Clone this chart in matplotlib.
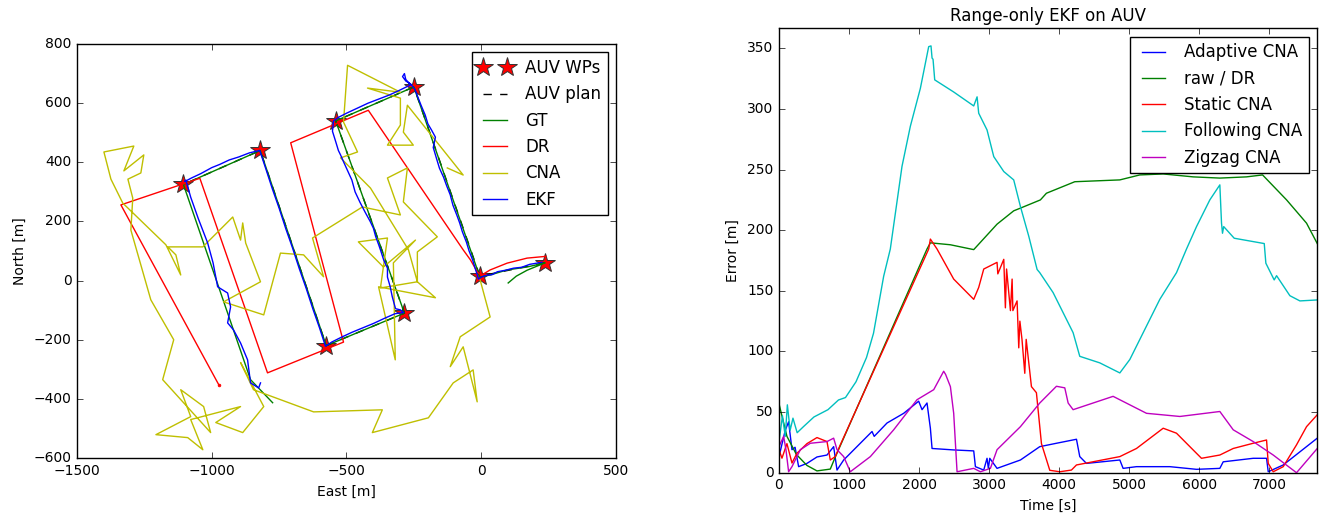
import matplotlib
matplotlib.use('Agg')
import matplotlib.pyplot as plt

# --- left panel: AUV trajectories (East / North in metres) ---
wp_e = [235, -5, -250, -540, -285, -575, -820, -1105]
wp_n = [60, 15, 655, 540, -110, -220, 440, 325]

gt_e = [100, 130, 170, 210, 237, 170, 96, 33, -5, -250, -540, -285, -575, -820, -1105, -856, -774]
gt_n = [-8, 15, 35, 50, 60, 46, 36, 19, 12, 655, 540, -110, -220, 440, 325, -335, -413]

dr_e = [240, 170, 96, 33, 0, -15, -40, -67, -419, -707, -511, -793, -1044, -1337, -974]
dr_n = [82, 76, 59, 36, 18, 30, 70, 104, 576, 466, -208, -312, 346, 256, -352]

cna_e = [-4, 33, -78, -115, -67, -15, -30, -104, -196, -404, -367, -622, -845, -893, -807,
         -885, -985, -893, -1078, -1033, -1089, -1207, -1078, -1115, -1030, -1004, -1182, -1141,
         -1226, -1300, -1293, -1311, -1263, -1252, -1326, -1289, -1400, -1374, -1330, -1170,
         -1115, -1133, -1163, -1033, -922, -893, -885, -874, -819, -956, -807, -745, -659, -585,
         -626, -441, -300, -348, -274, -289, -163, -237, -237, -374, -348, -456, -363, -244, -326,
         -319, -381, -170, -237, -270, -411, -522, -459, -511, -496, -300, -422, -300, -300, -348,
         -252, -289, -274, -67, -126]
cna_n = [2, -123, -190, -291, -224, -410, -302, -346, -464, -514, -437, -444, -369, -277, -426,
         -514, -480, -426, -470, -572, -531, -521, -460, -369, -426, -514, -335, -200,
         -65, 171, 279, 343, 364, 425, 371, 455, 435, 343, 262, 121,
         19, 87, 114, 114, 215, 137, 195, 127, -4, -72, -116, 93, 87, 13,
         144, 249, 222, 347, 381, 266, 148, 97, -4, -25, 144, 131, 46, 137, 60,
         -268, -21, -58, -4, 104, 313, 415, 435, 536, 728, 637, 651, 617, 526, 458,
         458, 502, 593, 357, 381]

ekf_e = [225, 200, 180, 150, 120, 90, 60, 40, 20, 0, -10,
         -22, -32, -45, -55, -70, -80, -90, -105, -115, -128, -140, -155, -165, -178, -170, -185,
         -198, -208, -222, -235, -245, -262, -280, -292, -285, -280, -262,
         -300, -340, -380, -420, -460, -500, -530, -548,
         -552, -540, -530, -522, -510, -495, -480, -468, -450, -430, -412, -400, -392, -380, -374,
         -362, -348, -348, -338, -330, -318, -300, -288,
         -320, -360, -400, -440, -480, -520, -555, -578,
         -600, -625, -650, -675, -700, -725, -750, -775, -800, -822,
         -860, -900, -935, -970, -1000, -1040, -1075, -1100,
         -1096, -1078, -1050, -1015, -995, -978, -941, -930, -941, -919, -893, -867, -856, -826, -819]
ekf_n = [62, 58, 55, 45, 42, 35, 30, 20, 18, 12, 5,
         40, 70, 100, 130, 165, 195, 220, 255, 290, 320, 350, 380, 410, 450, 485, 510,
         530, 560, 590, 620, 645, 665, 675, 690, 700, 680, 662,
         645, 628, 614, 600, 583, 566, 552, 540,
         505, 470, 440, 425, 400, 370, 340, 300, 265, 230, 200, 177, 150, 120, 104,
         70, 42, 12, -20, -55, -95, -99, -108,
         -112, -128, -145, -160, -175, -192, -208, -222,
         -160, -95, -25, 40, 110, 175, 245, 310, 380, 440,
         432, 418, 408, 393, 382, 362, 347, 335,
         340, 282, 210, 127, 60, -21, -42, -89, -143, -167, -211, -268, -346, -363, -346]

# --- right panel: error vs time ---
t_dr = [0, 114, 250, 400, 543, 733, 805, 2114, 2162, 2448, 2781, 3114, 3352, 3438, 3733, 3819,
        4224, 4867, 5152, 5486, 5914, 6295, 6676, 6905, 7248, 7533, 7686]
e_dr = [57, 30, 15, 6, 1.5, 3, 13, 184.5, 189.6, 188, 184, 205, 216, 218, 225, 230.5,
        240, 241.5, 245.6, 246.4, 244, 243, 244, 245.6, 225, 205.8, 189]

t_follow = [0, 50, 90, 120, 160, 200, 260, 350, 500, 700, 850, 950, 1100, 1250, 1350, 1495, 1590,
            1757, 1876, 2019, 2138, 2171, 2186, 2200, 2224, 2495, 2781, 2829, 2852, 2971, 3067,
            3210, 3352, 3448, 3567, 3686, 3724, 3914, 4200, 4295, 4581, 4867, 5010, 5248, 5438,
            5676, 5819, 5962, 6152, 6295, 6319, 6333, 6350, 6500, 6929, 6952, 7071, 7105, 7295,
            7438, 7686]
e_follow = [25, 47, 30, 56, 35, 45, 33, 38, 46, 52, 60, 62, 75, 95, 115, 162, 184.5,
            252.7, 285.7, 317, 351.4, 352, 342, 341, 324, 314, 302.5, 310, 296.5, 282.7, 260.7,
            248.4, 241.5, 219.5, 195, 167.6, 165, 148.6, 115.5, 96, 90.6, 82.3, 93.4, 121, 143,
            165, 184.5, 203, 225, 237.4, 205.8, 197.5, 203, 193.4, 189, 172.8, 159, 162.5, 146,
            141.7, 142.5]

t_static = [0, 43, 114, 186, 257, 400, 543, 686, 733, 805, 876, 2138, 2162, 2257, 2495, 2781,
            2852, 2924, 3114, 3125, 3210, 3233, 3250, 3305, 3329, 3340, 3400, 3424, 3440, 3470,
            3510, 3530, 3605, 3676, 3748, 3867, 4010, 4176, 4248, 4867, 5105, 5486, 5676, 5962,
            6033, 6295, 6486, 6771, 6962, 6986, 7057, 7200, 7390, 7533, 7686]
e_static = [19, 12, 24, 8, 16, 24, 29, 25.7, 10.5, 13.3, 23, 184.5, 192.7, 184.5, 159.7, 143,
            152.8, 168, 173.5, 164, 176, 136, 168, 133.7, 159.7, 133.7, 141.7, 103, 125, 110,
            82, 110, 71, 66, 24, 2, 0.8, 2.2, 6.4, 13.3, 20, 36.7, 32.6, 16,
            11.9, 14.6, 20, 24.3, 27, 7.7, 0.8, 5, 23, 38, 47.8]

t_adapt = [0, 90, 138, 186, 230, 281, 400, 543, 686, 781, 829, 924, 1067, 1329, 1360, 1543, 1781,
           1995, 2043, 2114, 2162, 2186, 2495, 2781, 2805, 2924, 2971, 2990, 3010, 3114, 3448,
           3724, 3962, 4248, 4295, 4390, 4867, 4914, 5105, 5581, 5962, 6295, 6343, 6771, 6962,
           6986, 7200, 7686]
e_adapt = [13, 35, 42, 19, 21, 5, 7.7, 13, 14.6, 21.5, 2.2, 10.5, 18.8, 34, 30, 41, 49,
           59, 52, 57.5, 36.7, 20, 18.8, 18, 5, 2.2, 11.9, 3.6, 11.9, 3.6, 10.5,
           21.5, 24.3, 27.6, 13.3, 7.7, 10.5, 3.6, 5, 5, 2.8, 3.6, 9, 11.9, 11.9,
           0.8, 6.4, 28.5]

t_zigzag = [0, 67, 100, 138, 186, 305, 448, 686, 781, 829, 924, 1019, 1305, 1638, 1971, 2210,
            2352, 2380, 2448, 2495, 2543, 2781, 2876, 3019, 3114, 3448, 3724, 3962, 4081, 4129,
            4200, 4771, 5248, 5724, 6295, 6486, 6771, 7057, 7390, 7686]
e_zigzag = [21.5, 30, 19, 0.8, 5, 19, 24.3, 25.7, 28.5, 19, 13.3, 0.8, 13.3, 35.4, 60.2, 68.5,
            83.7, 81, 71, 49, 0.8, 3.6, 0.8, 3.6, 19, 38, 57.5, 71.3, 70, 57.5,
            52, 63, 49, 46.4, 50.5, 35.4, 25.7, 14.6, 0, 20]

plt.style.use('classic')
plt.rcParams['font.size'] = 10
plt.rcParams['legend.fontsize'] = 12

fig = plt.figure(figsize=(13.27, 5.18), dpi=100, facecolor='white')

lw = 1.0
ax1 = fig.add_axes([0.0580, 0.1158, 0.4062, 0.7992])
ax1.plot(wp_e, wp_n, 'r*', markersize=15, markeredgecolor='0.2', markeredgewidth=0.7, label='AUV WPs')
ax1.plot(wp_e, wp_n, 'k--', lw=lw, label='AUV plan')
ax1.plot(gt_e, gt_n, 'g-', lw=lw, label='GT')
ax1.plot(dr_e, dr_n, 'r-', lw=lw, label='DR')
ax1.plot(cna_e, cna_n, 'y-', lw=lw, label='CNA')
ax1.plot(ekf_e, ekf_n, 'b-', lw=lw, label='EKF')
ax1.plot([dr_e[-1]], [dr_n[-1]], 'r.', markersize=4)
ax1.set_xlim(-1500, 500)
ax1.set_ylim(-600, 800)
ax1.set_xlabel('East [m]')
ax1.set_ylabel('North [m]')
ax1.legend(loc='upper right')

ax2 = fig.add_axes([0.5870, 0.0874, 0.4054, 0.8579])
ax2.plot(t_adapt, e_adapt, 'b-', lw=lw, label='Adaptive CNA')
ax2.plot(t_dr, e_dr, 'g-', lw=lw, label='raw / DR')
ax2.plot(t_static, e_static, 'r-', lw=lw, label='Static CNA')
ax2.plot(t_follow, e_follow, 'c-', lw=lw, label='Following CNA')
ax2.plot(t_zigzag, e_zigzag, 'm-', lw=lw, label='Zigzag CNA')
ax2.set_xlim(0, 7681)
ax2.set_ylim(0, 366.5)
ax2.set_xlabel('Time [s]')
ax2.set_ylabel('Error [m]')
ax2.set_title('Range-only EKF on AUV', fontsize=12)
ax2.legend(loc='upper right')

fig.savefig('out.png', dpi=100, facecolor='white')
